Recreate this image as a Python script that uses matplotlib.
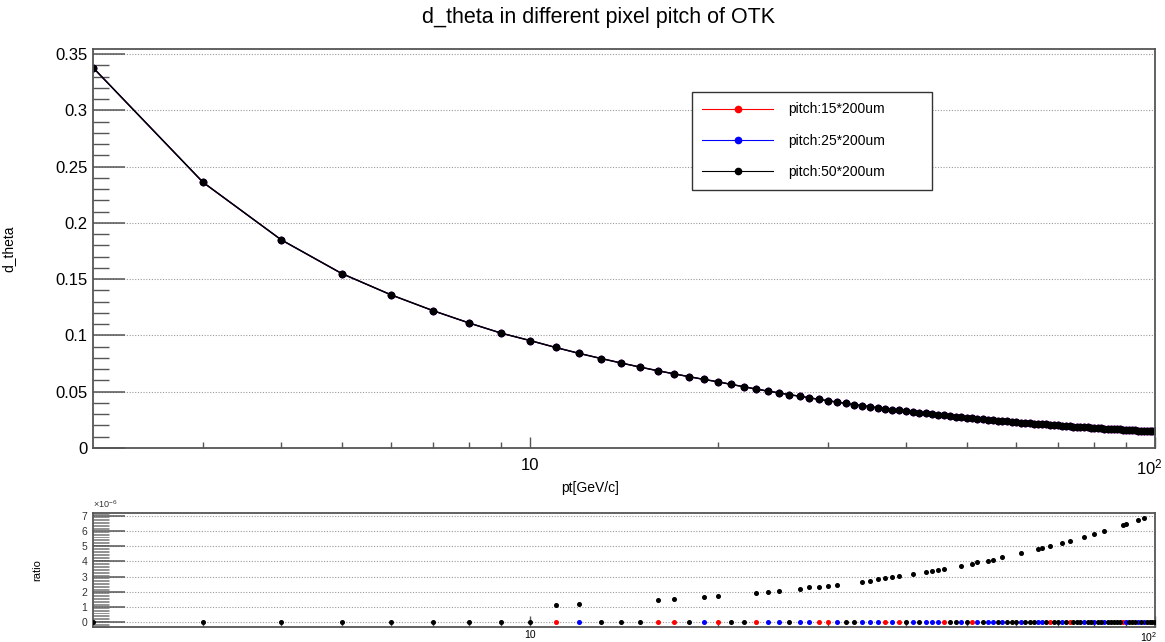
import numpy as np
import matplotlib
matplotlib.use('Agg')
import matplotlib.pyplot as plt
import matplotlib.transforms as mtransforms
from matplotlib.ticker import FixedLocator, MultipleLocator, NullFormatter

plt.rcParams['font.family'] = ['Liberation Sans', 'DejaVu Sans']
plt.rcParams['mathtext.fontset'] = 'custom'
plt.rcParams['mathtext.rm'] = 'Liberation Sans'
plt.rcParams['mathtext.it'] = 'Liberation Sans:italic'

# pt values (GeV/c), one point per integer
pt = np.arange(2, 101)

# d_theta (the three pitches overlap at this scale)
d_theta_50 = [0.338, 0.236, 0.185, 0.155, 0.136, 0.122, 0.111, 0.102, 0.0955,
              0.0893, 0.0840, 0.0795, 0.0755, 0.0719, 0.0687, 0.0659, 0.0633, 0.0609, 0.0588,
              0.0565, 0.0544, 0.0524, 0.0506, 0.0490, 0.0474, 0.0460, 0.0446, 0.0432, 0.0420,
              0.0408, 0.0397, 0.0386, 0.0376, 0.0367, 0.0358, 0.0350, 0.0342, 0.0334, 0.0327,
              0.0320, 0.0313, 0.0307, 0.0301, 0.0295, 0.0289, 0.0284, 0.0279, 0.0274, 0.0269,
              0.0265, 0.0260, 0.0256, 0.0252, 0.0248, 0.0244, 0.0240, 0.0237, 0.0233, 0.0230,
              0.0226, 0.0223, 0.0220, 0.0217, 0.0214, 0.0211, 0.0209, 0.0206, 0.0203, 0.0201,
              0.0198, 0.0196, 0.0194, 0.0191, 0.0189, 0.0187, 0.0185, 0.0183, 0.0181, 0.0179,
              0.0177, 0.0175, 0.0173, 0.0171, 0.0170, 0.0168, 0.0166, 0.0165, 0.0163, 0.0161,
              0.0160, 0.0158, 0.0157, 0.0155, 0.0154, 0.0153, 0.0151, 0.0150, 0.0149, 0.0147]
d_theta_15 = list(d_theta_50)
d_theta_25 = list(d_theta_50)

# ratio (x1e-6): black points that sit above zero
ratio50_pt = [11, 12, 16, 17, 19, 20, 23, 24, 25, 27, 28, 29, 30, 31, 34, 35, 36, 37, 38, 39,
              41, 43, 44, 45, 46, 49, 51, 52, 54, 55, 57, 61, 65, 66, 68, 71, 73, 77, 80, 83,
              89, 90, 94, 96]
ratio50_val = [1.14, 1.20, 1.46, 1.51, 1.65, 1.74, 1.92, 2.01, 2.07, 2.17, 2.29, 2.34, 2.38, 2.47,
               2.64, 2.73, 2.82, 2.89, 2.95, 3.04, 3.15, 3.28, 3.37, 3.41, 3.52, 3.70, 3.83, 3.94,
               4.05, 4.11, 4.27, 4.53, 4.80, 4.88, 4.99, 5.19, 5.34, 5.59, 5.78, 6.02, 6.38, 6.46,
               6.70, 6.84]
# where the black point leaves zero, the red or blue point shows at zero
ratio15_pt = [11, 16, 17, 20, 23, 29, 30, 37, 39, 46, 51, 68, 73, 89]
ratio25_pt = [12, 19, 24, 25, 27, 28, 31, 34, 35, 36, 38, 41, 43, 44, 45, 49, 52, 54, 55, 57,
              61, 65, 66, 71, 77, 80, 83, 90, 94, 96]

labels = ['pitch:15*200um', 'pitch:25*200um', 'pitch:50*200um']
colors = ['#ff0000', '#0000ff', '#000000']

ratio_50 = np.zeros(len(pt))
for p, v in zip(ratio50_pt, ratio50_val):
    ratio_50[p - 2] = v

W, H = 1165, 642
fig = plt.figure(figsize=(W / 100, H / 100), dpi=100)
ax = fig.add_axes([93 / W, 1 - 448 / H, 1062 / W, (448 - 49) / H])
ax2 = fig.add_axes([93 / W, 1 - 627 / H, 1062 / W, (627 - 513) / H])

frame_col = '#555555'
grid_kw = dict(color='#999999', linestyle=(0, (1, 1.5)), linewidth=0.8)


def style_axes(a, lab_size, xpad, minor_w):
    a.set_xscale('log')
    a.set_xlim(2, 100)
    for s in a.spines.values():
        s.set_color(frame_col)
        s.set_linewidth(1.3)
    a.xaxis.set_major_locator(FixedLocator([10, 100]))
    a.xaxis.set_minor_locator(FixedLocator([3, 4, 5, 6, 7, 8, 9, 20, 30, 40, 50, 60, 70, 80, 90]))
    a.xaxis.set_minor_formatter(NullFormatter())
    a.set_xticklabels(['10', r'$10^{2}$'])
    a.tick_params(axis='x', which='both', direction='in', color=frame_col, width=1.0,
                  labelsize=lab_size, pad=xpad, top=False)
    a.tick_params(axis='x', which='major', length=8)
    a.tick_params(axis='x', which='minor', length=4.5)
    a.tick_params(axis='y', which='both', direction='in', color=frame_col, right=False)
    a.tick_params(axis='y', which='major', length=23, width=1.1)
    a.tick_params(axis='y', which='minor', length=11.5, width=minor_w)
    a.grid(axis='y', which='major', **grid_kw)
    a.set_axisbelow(True)
    # keep the 10^2 label inside the canvas, as in the reference
    lab = a.get_xticklabels()[1]
    lab.set_transform(lab.get_transform() +
                      mtransforms.ScaledTranslation(-6 / 100, 0, fig.dpi_scale_trans))


# main panel
style_axes(ax, 12, 7, 1.0)
for y, c, lab in zip([d_theta_15, d_theta_25, d_theta_50], colors, labels):
    lw = 1.1 if c == '#000000' else 0.8
    ax.plot(pt, y, color=c, linewidth=lw, marker='o', markersize=4.5, label=lab)
ax.set_ylim(0, 0.3545)
ax.set_yticks(np.arange(0, 0.351, 0.05))
ax.yaxis.set_minor_locator(MultipleLocator(0.01))
ax.set_yticklabels(['0', '0.05', '0.1', '0.15', '0.2', '0.25', '0.3', '0.35'])
ax.tick_params(axis='y', labelsize=12, pad=4)
ax.set_ylabel('d_theta', fontsize=10)
ax.yaxis.set_label_coords(-0.0734, 0.5)
ax.set_xlabel('pt[GeV/c]', fontsize=10)
ax.xaxis.set_label_coords(0.468, -0.083)

leg = ax.legend(loc='upper left', bbox_to_anchor=(692 / W, 1 - 92 / H, 240 / W, 0.0),
                bbox_transform=fig.transFigure, mode='expand', borderaxespad=0,
                fontsize=10, handlelength=5.1, handletextpad=1.1, labelspacing=1.25,
                borderpad=0.75, fancybox=False, framealpha=1, shadow=False)
leg.get_frame().set_edgecolor('#333333')
leg.get_frame().set_linewidth(1.0)
for h in leg.get_lines():
    h.set_linewidth(0.8)

fig.text(599 / W, 1 - 17 / H, 'd_theta in different pixel pitch of OTK',
         ha='center', va='center', fontsize=15.5)

# ratio panel
style_axes(ax2, 7.5, 2, 0.45)
ax2.plot(ratio15_pt, np.zeros(len(ratio15_pt)), 'o', color=colors[0], markersize=2.6, zorder=3)
ax2.plot(ratio25_pt, np.zeros(len(ratio25_pt)), 'o', color=colors[1], markersize=2.6, zorder=3)
ax2.plot(pt, ratio_50, 'o', color=colors[2], markersize=2.6, zorder=4)
ax2.set_ylim(-0.32, 7.18)
ax2.yaxis.set_major_locator(MultipleLocator(1))
ax2.yaxis.set_minor_locator(MultipleLocator(0.1))
ax2.tick_params(axis='y', labelsize=7.5, pad=4, labelcolor='#333333')
ax2.set_ylabel('ratio', fontsize=8)
ax2.yaxis.set_label_coords(-0.048, 0.5)
ax2.text(0.0, 1.03, r'$\times10^{-6}$', transform=ax2.transAxes, fontsize=6.5,
         ha='left', va='bottom', color='#333333')

fig.savefig('out.png', dpi=100)
